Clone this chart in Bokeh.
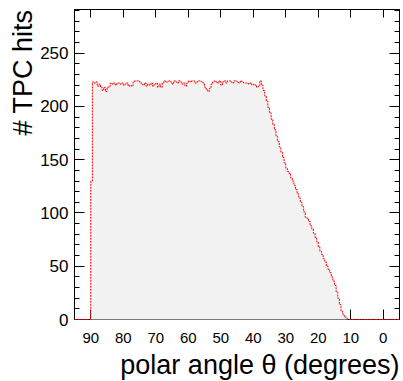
from bokeh.plotting import figure
from bokeh.models import Range1d, SingleIntervalTicker, LinearAxis, Title, CustomJSTickFormatter
from bokeh.embed import file_html
from bokeh.resources import INLINE

# ---- data (histogram of TPC hits vs polar angle, 0.5 degree bins) ----
theta_first_edge = 90.0      # upper edge of the first filled bin
bin_width = 0.5
first_bin = [130]
plateau = [
    223, 222, 223, 219, 221, 218, 215, 218, 214, 218,
    219, 222, 221, 222, 220, 222, 222, 221, 222, 220,
    221, 222, 219, 220, 219, 223, 224, 224, 224, 223,
    221, 220, 222, 219, 221, 220, 222, 219, 221, 222,
    218, 221, 218, 222, 224, 223, 223, 224, 223, 221,
    224, 223, 222, 224, 223, 221, 222, 219, 222, 224,
    223, 224, 224, 222, 223, 224, 224, 223, 222, 218,
    216, 214, 217, 221, 223, 224, 223, 222, 224, 220,
    223, 224, 222, 224, 224, 223, 222, 224, 224, 223,
    222, 224, 223, 222, 222, 222, 221, 222, 220, 221,
    220, 218, 219, 224,
]
decline = [
    220, 215, 210, 205, 199, 194, 188, 183, 178, 172,
    167, 162, 157, 152, 147, 142, 139, 137, 133, 130,
    126, 122, 118, 114, 110, 106, 101, 96, 95, 92,
    88, 85, 81, 77, 73, 68, 64, 61, 57, 54,
    50, 47, 44, 40, 36, 32, 26, 20, 14, 8,
    5, 3, 1,
]
counts = first_bin + plateau + decline

x_lo, x_hi = 95, -5        # axis shown reversed
y_lo, y_hi = 0, 291
x_title = "polar angle θ (degrees)"
y_title = "# TPC hits"

# ---- step outline built from the bins ----
xs = [x_lo, theta_first_edge]
ys = [0, 0]
for i, c in enumerate(counts):
    hi = theta_first_edge - i * bin_width
    lo = hi - bin_width
    xs += [hi, lo]
    ys += [c, c]
last_lo = theta_first_edge - len(counts) * bin_width
xs += [last_lo, x_hi]
ys += [0, 0]

W, H = 403, 381
p = figure(width=W, height=H, x_range=Range1d(x_lo, x_hi), y_range=Range1d(y_lo, y_hi),
           output_backend="svg", toolbar_location=None,
           min_border_left=74, min_border_right=4, min_border_top=9, min_border_bottom=0)
p.background_fill_color = "white"
p.border_fill_color = "white"
p.xgrid.visible = False
p.ygrid.visible = False
p.outline_line_color = "black"

p.patch(xs, ys, fill_color="#f2f2f2", line_color=None, level="overlay")
p.line(xs, ys, line_color="red", line_width=1, line_dash="2 1", level="overlay")

font = "Liberation Sans"
xt = SingleIntervalTicker(interval=10, num_minor_ticks=0)
yt = SingleIntervalTicker(interval=50, num_minor_ticks=5)
blank = CustomJSTickFormatter(code="return ''")

ax = p.xaxis[0]
ax.ticker = xt
ax.major_tick_in = 10
ax.major_tick_out = 0
ax.minor_tick_in = 0
ax.minor_tick_out = 0
ax.major_label_text_font = font
ax.major_label_text_font_size = "15px"
ax.major_label_text_color = "black"
ax.major_label_standoff = 13
ax.axis_line_color = "black"

ay = p.yaxis[0]
ay.ticker = yt
ay.major_tick_in = 10
ay.major_tick_out = 0
ay.minor_tick_in = 5
ay.minor_tick_out = 0
ay.major_label_text_font = font
ay.major_label_text_font_size = "17px"
ay.major_label_text_color = "black"
ay.major_label_standoff = 6
ay.axis_line_color = "black"

top = LinearAxis(ticker=xt, formatter=blank, major_tick_in=8, major_tick_out=0,
                 minor_tick_in=0, minor_tick_out=0,
                 major_label_text_font_size="0px", major_label_standoff=0, axis_line_color="black")
p.add_layout(top, "above")
right = LinearAxis(ticker=yt, formatter=blank, major_tick_in=10, major_tick_out=0,
                   minor_tick_in=5, minor_tick_out=0,
                   major_label_text_font_size="0px", major_label_standoff=0, axis_line_color="black")
p.add_layout(right, "right")

p.add_layout(Title(text=x_title, align="right", text_font=font, text_font_size="27px",
                   text_font_style="normal", text_color="black", standoff=4, offset=0), "below")
p.add_layout(Title(text=y_title, align="right", text_font=font, text_font_size="27px",
                   text_font_style="normal", text_color="black", standoff=0, offset=0), "left")

open("out.html", "w").write(file_html(p, INLINE))
